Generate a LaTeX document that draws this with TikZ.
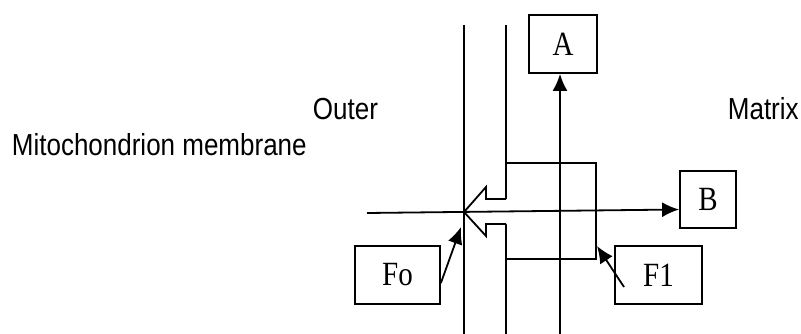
\documentclass[tikz,border=0pt]{standalone}
\usepackage{fontspec}
\setmainfont{Liberation Serif}
\newfontfamily\labelfont{Liberation Sans}
\usetikzlibrary{arrows.meta}
\usetikzlibrary{calc}
\newcommand\tall[1]{\scalebox{1}[1.17]{#1}}

\begin{document}
\begin{tikzpicture}[x=1pt,y=-1pt,->,>={Latex[length=17pt,width=15pt]},
  line width=1.8pt,
  box node/.style={draw,rectangle,inner sep=0pt,
  font=\fontsize{29}{31}\selectfont},
  side label/.style={font=\labelfont\fontsize{26}{28}\selectfont,
  anchor=base west,inner sep=0pt}]
  \useasboundingbox (0,0) rectangle (801,334);

  % texts
  \node[side label] (outer) at (312,120) {\tall{Outer}};
  \node[side label] (matrix) at (727,120) {\tall{Matrix}};
  \node[side label] (membr) at (11,156) {\tall{Mitochondrion membrane}};

  % membrane and the F1 part
  \draw[-] (464,25) -- (464,334);
  \draw[-] (506,25) -- (506,334);
  \node[box node,minimum width=90pt,minimum height=96pt] (head) at (551,211) {};

  % big open arrow
  \fill[white] (507.5,199) -- (486,199) -- (486,187) -- (464,212)
    -- (486,236) -- (486,224) -- (507.5,224) -- cycle;
  \draw[-,line join=miter] (506,199) -- (486,199) -- (486,187) -- (464,212)
    -- (486,236) -- (486,224) -- (506,224);

  \node[box node,minimum width=68pt,minimum height=58pt] (A) at (563,44) {\tall{A}};
  \node[box node,minimum width=56pt,minimum height=57pt] (B) at (708,199.5) {\tall{B}};
  \node[box node,minimum width=85pt,minimum height=58pt] (Fo) at (397.5,275) {\tall{Fo}};
  \node[box node,minimum width=87pt,minimum height=58pt] (F1) at (658.5,275) {\tall{F1}};

  \coordinate (in) at (367,213);
  \coordinate (bot) at (560,334);
  \coordinate (fotip) at (461,227);
  \coordinate (f1from) at (624,287);
  \coordinate (f1tip) at (597,246);

  \draw (in) -- ([yshift=-10pt]B.west);
  \draw (bot) -- (bot |- A.south);
  \draw ([yshift=-8pt]Fo.east) -- (fotip);
  \draw (f1from) -- (f1tip);
\end{tikzpicture}
\end{document}
